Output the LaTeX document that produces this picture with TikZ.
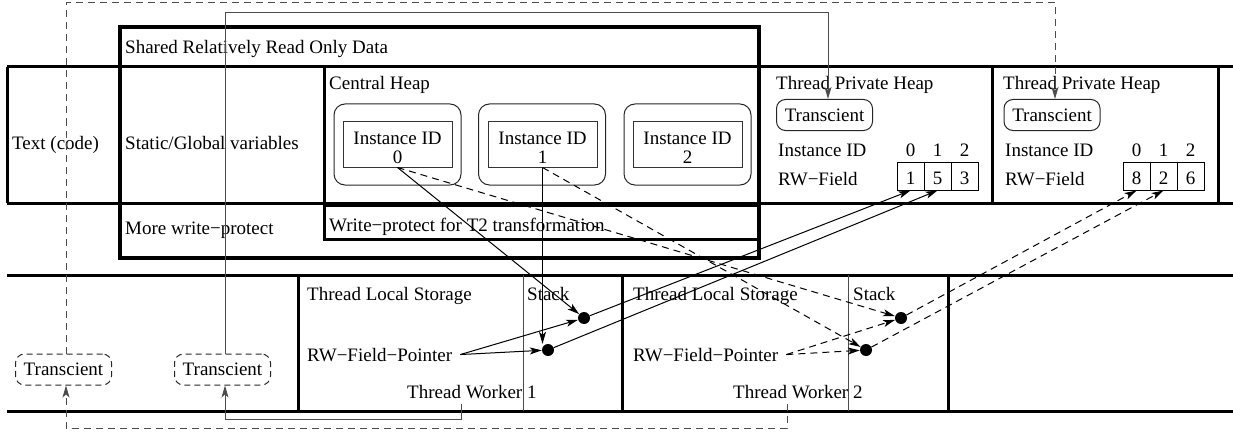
\documentclass[tikz,border=0pt]{standalone}
\usepackage{fontspec}
\setmainfont{Liberation Serif}
\usetikzlibrary{arrows.meta}
\newcommand\dfs{\fontsize{19}{22}\selectfont}
\begin{document}
\begin{tikzpicture}[x=1pt,y=-1pt,
  every node/.style={font=\dfs, inner sep=0pt},
  thk/.style={line width=3pt},
  thkr/.style={line width=4.2pt},
  thn/.style={line width=1pt},
  gline/.style={line width=1pt, draw=black!70},
  dsh/.style={dash pattern=on 7pt off 5pt},
  arr/.style={-{Stealth[length=12pt,width=7pt,inset=3pt]}},
  txt/.style={anchor=base west},
  ctxt/.style={anchor=base},
  tbox/.style={draw=black!85, rounded corners=9pt, line width=1pt, minimum width=96pt, minimum height=31pt},
  obox/.style={draw=black!85, rounded corners=11pt, line width=1pt, minimum width=127pt, minimum height=81pt},
  ibox/.style={draw=black!80, line width=1pt, minimum width=109pt, minimum height=45pt},
  cell/.style={draw, line width=1pt, minimum width=27pt, minimum height=28pt, text height=16pt, text depth=0pt},
  dotn/.style={circle, fill, minimum size=12pt}
]
\useasboundingbox (0,0) rectangle (1233,433);

% ---- memory rows ----
\draw[thk] (7,67) -- (1233,67);
\draw[thk] (7,203) -- (1233,203);
\draw[thk] (7,67) -- (7,203);
\draw[thk] (324,67) -- (324,203);
\draw[thk] (992,67) -- (992,203);
\draw[thk] (1218,67) -- (1218,203);
\draw[thkr] (120,27) rectangle (759,258);
\draw[thk] (324,205) rectangle (759,239);

\draw[thk] (7,275) -- (1233,275);
\draw[thk] (7,411) -- (1233,411);
\draw[thk] (298,275) -- (298,411);
\draw[thk] (622,275) -- (622,411);
\draw[thk] (948,275) -- (948,411);
\draw[gline] (523,275) -- (523,411);
\draw[gline] (848,275) -- (848,411);

% ---- texts ----
\node[txt] (shared) at (125,54) {Shared Relatively Read Only Data};
\node[txt] (code) at (12,149) {Text (code)};
\node[txt] (static) at (125,149) {Static/Global variables};
\node[txt] (central) at (329,90) {Central Heap};
\node[txt] (more) at (125,234) {More write−protect};
\node[txt] (wp) at (329,231) {Write−protect for T2 transformation};

% central heap instances
\node[obox] (o0) at (397.5,144.5) {};
\node[obox] (o1) at (542,144.5) {};
\node[obox] (o2) at (687.5,144.5) {};
\node[ibox] (i0) at (397.5,144.5) {};
\node[ibox] (i1) at (542.5,144.5) {};
\node[ibox] (i2) at (687.5,144.5) {};
\node[ctxt] (i0a) at (397.5,144) {Instance ID};
\node[ctxt] (i0b) at (397.5,163) {0};
\node[ctxt] (i1a) at (542.5,144) {Instance ID};
\node[ctxt] (i1b) at (542.5,163) {1};
\node[ctxt] (i2a) at (687.5,144) {Instance ID};
\node[ctxt] (i2b) at (687.5,163) {2};

% thread private heaps
\node[txt] (tph1) at (776,90) {Thread Private Heap};
\node[txt] (tph2) at (1003,90) {Thread Private Heap};
\node[tbox] (tp1) at (824.5,115) {Transcient};
\node[tbox] (tp2) at (1052,115) {Transcient};
\node[txt] (id1) at (778,157) {Instance ID};
\node[txt] (id2) at (1005,157) {Instance ID};
\node[txt] (rw1) at (778,185) {RW−Field};
\node[txt] (rw2) at (1005,185) {RW−Field};
\node[cell] (c10) at (910.5,176) {1};
\node[cell] (c11) at (937.5,176) {5};
\node[cell] (c12) at (964.5,176) {3};
\node[cell] (c20) at (1136.5,176) {8};
\node[cell] (c21) at (1163.5,176) {2};
\node[cell] (c22) at (1190.5,176) {6};
\node[ctxt] (h10) at (910.5,157) {0};
\node[ctxt] (h11) at (937.5,157) {1};
\node[ctxt] (h12) at (964.5,157) {2};
\node[ctxt] (h20) at (1136.5,157) {0};
\node[ctxt] (h21) at (1163.5,157) {1};
\node[ctxt] (h22) at (1190.5,157) {2};

% thread workers
\node[txt] (tls1) at (307,300) {Thread Local Storage};
\node[txt] (st1) at (527,300) {Stack};
\node[txt] (tls2) at (633,300) {Thread Local Storage};
\node[txt] (st2) at (853,300) {Stack};
\node[txt] (p1) at (307,361) {RW−Field−Pointer};
\node[txt] (p2) at (633,361) {RW−Field−Pointer};
\node[txt] (tw1) at (407,398) {Thread Worker 1};
\node[txt] (tw2) at (733,398) {Thread Worker 2};
\node[dotn] (dA) at (584,318) {};
\node[dotn] (dB) at (548,350) {};
\node[dotn] (dC) at (901,318) {};
\node[dotn] (dD) at (866,350) {};

% transient boxes
\node[tbox, dash pattern=on 6pt off 4pt] (tl) at (63.5,369.5) {Transcient};
\node[tbox, dash pattern=on 6pt off 4pt] (tm) at (222.5,369.5) {Transcient};

% ---- connectors ----
\draw[thn,arr] (i0.south) -- (dA);
\draw[thn,arr] (i1.south) -- (i1.south |- dB.north);
\draw[thn,arr] ([xshift=8pt]p1.east) -- (dA);
\draw[thn,arr] ([xshift=8pt]p1.east) -- (dB);
\draw[thn,arr] (dA) -- (c10.south);
\draw[thn,arr] (dB) -- (c11.south);

\draw[thn,dsh,arr] (i0.south) -- (dC);
\draw[thn,dsh,arr] (i1.south) -- (dD);
\draw[thn,dsh,arr] ([xshift=8pt]p2.east) -- (dC);
\draw[thn,dsh,arr] ([xshift=8pt]p2.east) -- (dD);
\draw[thn,dsh,arr] (dC) -- (c20.south);
\draw[thn,dsh,arr] (dD) -- (c21.south);

\coordinate (topS) at (0,13);
\coordinate (topD) at (0,3);
\coordinate (botS) at (0,419);
\coordinate (botD) at (0,428);
\coordinate (w1) at (461,404);
\coordinate (w2) at (787,404);
\coordinate (tmN) at ([xshift=2.5pt]tm.north);
\coordinate (tmS) at ([xshift=2.5pt]tm.south);
\coordinate (tlN) at ([xshift=2.5pt]tl.north);
\coordinate (tlS) at ([xshift=2.5pt]tl.south);
\coordinate (tp1N) at ([xshift=3.5pt]tp1.north);
\coordinate (tp2N) at ([xshift=3pt]tp2.north);

\draw[gline,arr] (tmN) -- (tmN |- topS) -- (tp1N |- topS) -- (tp1N);
\draw[gline,arr] (w1) |- (tmS |- botS) -- (tmS);
\draw[gline,dsh,arr] (tlN) -- (tlN |- topD) -- (tp2N |- topD) -- (tp2N);
\draw[gline,dsh,arr] (w2) |- (tlS |- botD) -- (tlS);
\end{tikzpicture}
\end{document}
